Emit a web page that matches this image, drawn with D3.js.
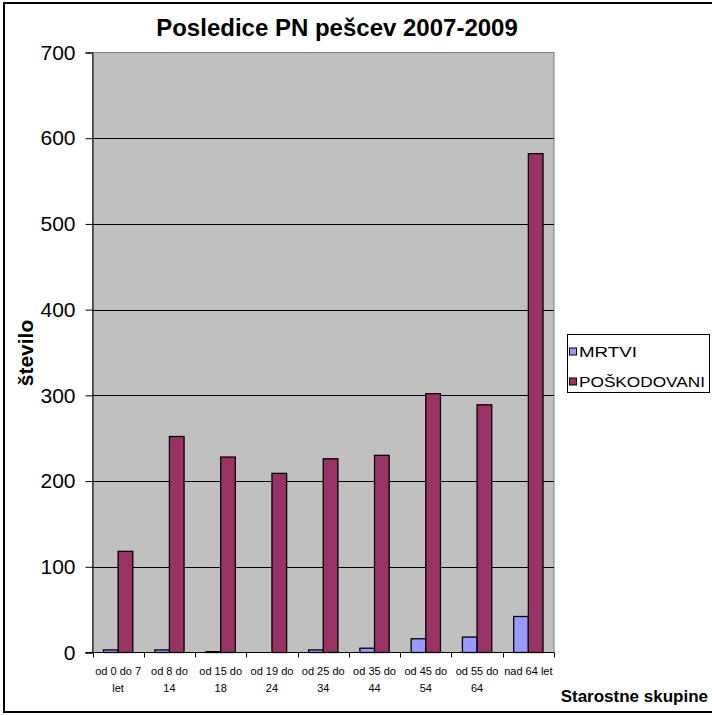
<!DOCTYPE html>
<html><head><meta charset="utf-8">
<script src="https://cdn.jsdelivr.net/npm/d3@7"></script>
<style>
html,body{margin:0;padding:0;background:#fff;}
svg{display:block;font-family:"Liberation Sans",Arial,sans-serif;}
</style></head>
<body>
<svg id="c" width="712" height="715"></svg>
<script>
const categories = [["od 0 do 7","let"],["od 8 do","14"],["od 15 do","18"],["od 19 do","24"],["od 25 do","34"],["od 35 do","44"],["od 45 do","54"],["od 55 do","64"],["nad 64 let"]];
const seriesNames = ["MRTVI","POŠKODOVANI"];
const mrtvi = [3,3,1,0,3,5,16,18,42];
const poskodovani = [118,252,228,209,226,230,302,289,582];
const yTicks = [0,100,200,300,400,500,600,700];
const colors = ["#9999FF","#993366"];
const title = "Posledice PN pešcev 2007-2009";
const yTitle = "število";
const xTitle = "Starostne skupine";

const svg = d3.select("#c");
// outer frame
svg.append("rect").attr("x",4).attr("y",3).attr("width",712).attr("height",709)
  .attr("fill","#fff").attr("stroke","#000").attr("stroke-width",2);

const L=92.5, R=554, T=52.5, B=652.5;
const x = d3.scaleBand().domain(d3.range(categories.length)).range([L,R]).paddingInner(0).paddingOuter(0);
const bw = x.bandwidth()/3.5;
const y = d3.scaleLinear().domain([0,700]).range([B,T]);

// plot background
svg.append("rect").attr("x",L).attr("y",T).attr("width",R-L).attr("height",B-T)
  .attr("fill","#C0C0C0").attr("stroke","#808080").attr("stroke-width",1);

// gridlines
svg.append("g").selectAll("line").data(yTicks.filter(d=>d>0&&d<700)).join("line")
  .attr("x1",L).attr("x2",R).attr("y1",d=>Math.round(y(d))+0.5).attr("y2",d=>Math.round(y(d))+0.5)
  .attr("stroke","#000").attr("stroke-width",1);

// bars
const series = [mrtvi, poskodovani];
series.forEach((vals,si)=>{
  svg.append("g").selectAll("rect").data(vals).join("rect")
    .attr("x",(d,i)=>x(i)+0.75*bw+si*bw)
    .attr("y",d=>y(d))
    .attr("width",bw)
    .attr("height",d=>B-y(d))
    .attr("fill",colors[si]).attr("stroke","#000").attr("stroke-width",1.3);
});

// y axis
const yAxis = d3.axisLeft(y).tickValues(yTicks).tickSize(7).tickPadding(10).tickFormat(d3.format("d"));
const ya = svg.append("g").attr("transform",`translate(${L},0)`).call(yAxis);
ya.select(".domain").attr("stroke","#000");
ya.selectAll("text").attr("font-size",21).attr("fill","#000").attr("font-family","Liberation Sans, Arial, sans-serif");

// x axis
const xb = d3.scaleLinear().domain([0,categories.length]).range([L,R]);
const xa = svg.append("g").attr("transform",`translate(0,${B})`);
xa.append("line").attr("x1",L-7).attr("x2",R).attr("y1",0).attr("y2",0).attr("stroke","#000");
xa.selectAll("line.t").data(d3.range(categories.length+1)).join("line").attr("class","t")
  .attr("x1",d=>Math.round(xb(d))+0.5).attr("x2",d=>Math.round(xb(d))+0.5).attr("y1",0).attr("y2",5).attr("stroke","#000");
const lab = xa.selectAll("text.c").data(categories).join("text").attr("class","c")
  .attr("text-anchor","middle").attr("font-size",11).attr("fill","#000");
lab.each(function(d,i){
  const t=d3.select(this);
  d.forEach((line,j)=>{
    t.append("tspan").attr("x",x(i)+x.bandwidth()/2).attr("y",22+j*17).text(line);
  });
});

// titles
svg.append("text").attr("x",337).attr("y",36).attr("text-anchor","middle")
  .attr("font-size",24).attr("font-weight","bold").text(title);
svg.append("text").attr("transform","translate(33,353) rotate(-90)").attr("text-anchor","middle")
  .attr("font-size",21).attr("font-weight","bold").text(yTitle);
svg.append("text").attr("x",708).attr("y",702).attr("text-anchor","end")
  .attr("font-size",17).attr("font-weight","bold").text(xTitle);

// legend
const lg = svg.append("g");
lg.append("rect").attr("x",567.5).attr("y",334.5).attr("width",142).attr("height",58)
  .attr("fill","#fff").attr("stroke","#000").attr("stroke-width",1);
const legW = [58,126];
seriesNames.forEach((n,i)=>{
  const cy = 351.5 + i*30;
  lg.append("rect").attr("x",569.5).attr("y",cy-3.5).attr("width",7).attr("height",7)
    .attr("fill",colors[i]).attr("stroke","#000");
  lg.append("text").attr("x",579).attr("y",cy+5.5).attr("font-size",15)
    .attr("textLength",legW[i]).attr("lengthAdjust","spacingAndGlyphs").text(n);
});
</script>
</body></html>
